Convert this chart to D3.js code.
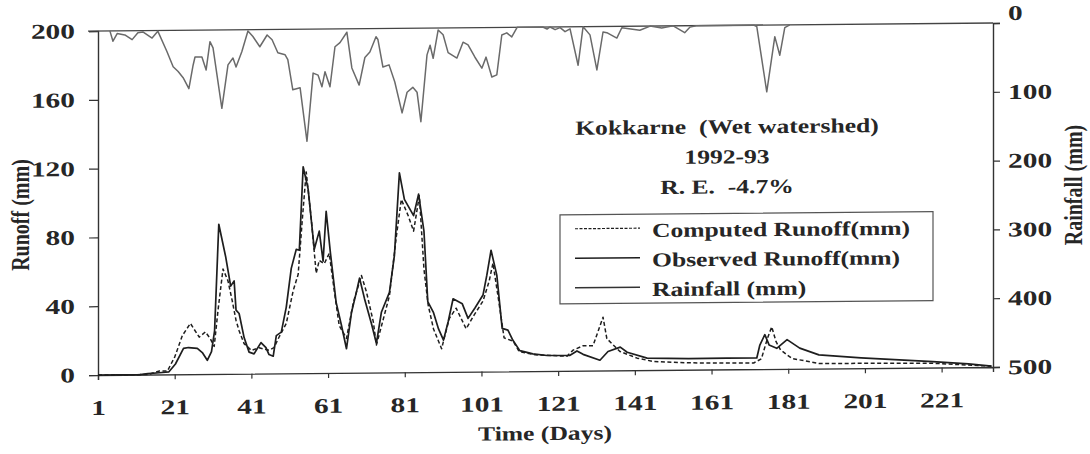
<!DOCTYPE html>
<html>
<head>
<meta charset="utf-8">
<script src="https://cdn.jsdelivr.net/npm/d3@7/dist/d3.min.js"></script>
<style>
  body { margin: 0; background: #fff; }
  text { font-family: "Liberation Serif", "Times New Roman", serif; font-weight: bold; fill: #262626; }
</style>
</head>
<body>
<svg id="chart" width="1090" height="454"></svg>
<script>
// Kokkarne (wet watershed), 1992-93: daily runoff and rainfall
const dayTicks = [1, 21, 41, 61, 81, 101, 121, 141, 161, 181, 201, 221];
const runoffTicks = [0, 40, 80, 120, 160, 200];
const rainTicks = [0, 100, 200, 300, 400, 500];

// rainfall, mm  [day, value]
const rainfall = [
  [4.1,0],[4.9,15],[6,4],[8,6],[9.9,13],[11.4,3],[12.7,2],[15.1,11],[16.6,1],[19,31],
  [20.6,53],[21.9,60],[23.2,69],[24.7,85],[25.8,51],[26.3,39],[28.1,39],[29.2,58],[30.2,17],[31,26],
  [33.3,114],[34.9,51],[36.2,41],[37,54],[38.5,32],[40.1,2],[41.4,10],[43.2,25],[45.1,8],[46.4,15],
  [47.9,34],[49.8,37],[50.5,44],[51.8,88],[53.7,85],[55.5,163],[57.1,64],[58.4,67],[59.4,84],[60.2,62],
  [61.5,84],[62.8,26],[64.1,20],[65.9,5],[67.2,57],[69.1,82],[70.6,42],[71.9,34],[73.5,12],[74,16],
  [75.3,56],[76.9,53],[78.4,78],[80.3,123],[81.6,93],[83.1,86],[84.2,93],[85.2,136],[86.8,39],[87.6,25],
  [88.4,44],[89.7,3],[91,10],[92.3,36],[94.6,44],[96.2,21],[97.5,25],[99.3,43],[101.1,59],[102.2,43],
  [103.7,72],[105,69],[106.3,11],[107.6,8],[108.9,14],[110.3,0],[117,0],[118.1,3],[118.9,0],[120.2,4],
  [121.5,1],[122.8,7],[124.1,3],[126.2,56],[127.5,0],[129.3,12],[131.1,63],[132.7,8],[133.7,9],[136.3,17],
  [137.6,2],[142.3,6],[145,0],[148,3],[151,0],[154,10],[155.4,2],[157,0],[172,0],[172.8,2],
  [175.4,97],[177.5,17],[178.8,44],[180.1,4],[181.4,0]
];

// observed runoff, mm  [day, value]
const observed = [
  [1,0],[12,0],[14,0.5],[17,1],[19.5,1.5],[21.2,6],[23.3,15],[24.6,15.5],[26.9,15],[28.2,12.5],
  [29.5,8],[30.6,13],[31.4,25],[32.5,87],[34.3,68],[35.6,51],[36.5,54],[37,37],[37.8,35],[39.1,21],
  [40.4,12.5],[41.7,11.5],[43.5,18],[44.8,15],[45.6,11],[46.7,10],[47.5,22],[48.8,24],[50.1,38.5],[51.4,61],
  [52.7,72],[53.5,71.5],[54.5,120],[55.8,107],[57.4,72],[58.7,82.5],[59.7,65],[60.5,94],[61.6,70],[63.1,41],
  [64.5,27.5],[65.8,14],[67.1,35],[68.4,47],[69.2,55],[70.5,43],[72.3,28.5],[73.6,17],[74.9,35],[77,46.5],
  [78.3,68],[79.6,116],[80.9,100.5],[83.3,91],[84.6,103.5],[86,82],[87,41],[88.5,34.5],[89.8,25],[91.1,18.5],
  [92.3,29],[93.6,42.5],[96,39.5],[97.5,31],[99.3,37],[101.4,44.5],[102.4,56],[103.5,70.5],[105,56],[106.4,25],
  [107.9,24],[109.2,18],[111,12],[114.4,10],[118.1,9],[124.1,9],[125.9,11.5],[127.5,9.5],[131.9,6],[134,11],
  [137.2,13.5],[139,10.5],[144.2,7],[155,6.5],[165,6.5],[172.8,6.5],[173.6,14],[174.9,20],[176,14],[178,12],
  [180.7,17],[184,12],[189,8],[200,6],[218.7,3.4],[228,2],[234,0.5]
];

// computed runoff, mm  [day, value]
const computed = [
  [1,0],[14,0],[17,2],[19.1,2],[21,10],[23,22.5],[25.1,29.5],[26.1,26],[27.4,21.5],[29,24.5],
  [30.3,20.5],[31.3,16],[32.3,37],[33.6,61],[34.9,54],[36,42.5],[37,31],[37.8,25],[39.1,17.5],[41,13.5],
  [43,15],[45.6,13.5],[46.9,15],[48.2,21],[50.1,29],[51.9,48],[53.2,57.5],[54.3,90],[55.3,117],[56.6,90],
  [57.9,58],[58.7,65.5],[60,63.5],[61.3,69.5],[62.6,48],[63.9,27.5],[65.8,20],[67.6,41],[69.7,56.5],[71,47],
  [72.8,29.5],[73.6,16],[75.4,31],[77,44.5],[78.8,79],[80.1,100.5],[81.9,91],[83.3,82],[84.8,102.5],[86,60],
  [87.1,39],[88.5,25],[90.6,13.5],[92.6,31],[94.4,37],[97,25],[99.1,33],[101.4,41],[103,52.5],[104,63],
  [105.4,42.5],[106.9,19.5],[109.3,17.5],[110.8,11.5],[115,9.5],[123.3,8.5],[124.9,12],[127.5,14.5],[130.1,14.5],[132.7,31],
  [133.7,18.5],[137.1,11],[141.6,7],[145.8,5],[155,4],[172,3.6],[174,6],[175.6,18],[176.7,24.5],[177.8,16],
  [179,11],[182,6],[189,3],[218.7,2.5],[234,0.5]
];

const titleLines = ["Kokkarne  (Wet watershed)", "1992-93", "R. E.  -4.7%"];
const legendItems = [
  { label: "Computed Runoff(mm)", key: "computed" },
  { label: "Observed Runoff(mm)", key: "observed" },
  { label: "Rainfall (mm)", key: "rainfall" }
];

const styles = {
  computed: { stroke: "#1e1e1e", width: 1.5, dash: "4,2.5" },
  observed: { stroke: "#1e1e1e", width: 1.7, dash: null },
  rainfall: { stroke: "#6a6a6a", width: 1.5, dash: null }
};

const SX = 1.28;           // horizontal stretch of the lettering
const SXT = 1.4;           // stretch of the tick numerals
const M = { left: 98, right: 993, top: 31, bottom: 375 };

const svg = d3.select("#chart");
const g = svg.append("g")
  .attr("transform", `translate(${M.left},${M.bottom}) skewY(-0.51) translate(${-M.left},${-M.bottom})`);

const x = d3.scaleLinear().domain([1, 234.4]).range([M.left, M.right]);
const y = d3.scaleLinear().domain([0, 200]).range([M.bottom, M.top]);
const yRain = d3.scaleLinear().domain([0, 500]).range([M.top, M.bottom]);

function stretchText(sel) {
  sel.each(function () {
    const t = d3.select(this);
    const tx = +t.attr("x") || 0;
    t.attr("x", tx / SXT).attr("transform", `scale(${SXT},1)`);
  });
}

// left axis (runoff)
const axL = g.append("g").attr("transform", `translate(${M.left},0)`)
  .call(d3.axisLeft(y).tickValues(runoffTicks).tickSize(9).tickPadding(14));
// bottom axis (days)
const axB = g.append("g").attr("transform", `translate(0,${M.bottom})`)
  .call(d3.axisBottom(x).tickValues(dayTicks).tickSize(5).tickPadding(20));
// right axis (rainfall)
const axR = g.append("g").attr("transform", `translate(${M.right},0)`)
  .call(d3.axisRight(yRain).tickValues(rainTicks).tickSize(7).tickPadding(8));

[axL, axB, axR].forEach(a => {
  a.select(".domain").attr("stroke", "#333").attr("stroke-width", 1.4);
  a.selectAll(".tick line").attr("stroke", "#333").attr("stroke-width", 1.2);
  a.selectAll(".tick text").attr("font-size", 21).attr("fill", "#262626")
    .style("font-family", '"Liberation Serif", serif').style("font-weight", "bold")
    .call(stretchText);
});
// the zero of the rainfall scale sits just above the frame corner
axR.selectAll(".tick text").filter(d => d === 0).attr("y", -10);

// rainfall datum line across the top
g.append("line")
  .attr("x1", M.left - 10).attr("x2", M.right)
  .attr("y1", yRain(0)).attr("y2", yRain(0))
  .attr("stroke", "#444").attr("stroke-width", 1.4);

// series
const lineRunoff = d3.line().x(d => x(d[0])).y(d => y(d[1]));
const lineRain = d3.line().x(d => x(d[0])).y(d => yRain(d[1]));

g.append("path").datum(rainfall).attr("d", lineRain)
  .attr("fill", "none").attr("stroke", styles.rainfall.stroke).attr("stroke-width", styles.rainfall.width)
  .attr("stroke-linejoin", "round");
g.append("path").datum(observed).attr("d", lineRunoff)
  .attr("fill", "none").attr("stroke", styles.observed.stroke).attr("stroke-width", styles.observed.width)
  .attr("stroke-linejoin", "round");
g.append("path").datum(computed).attr("d", lineRunoff)
  .attr("fill", "none").attr("stroke", styles.computed.stroke).attr("stroke-width", styles.computed.width)
  .attr("stroke-dasharray", styles.computed.dash).attr("stroke-linejoin", "round");

// title block
const titleX = 727, titleY0 = 139, lineGap = 30;
titleLines.forEach((s, i) => {
  g.append("text")
    .attr("text-anchor", "middle").attr("font-size", 20).style("white-space", "pre")
    .attr("transform", `translate(${titleX},${titleY0 + i * lineGap}) scale(${SX},1)`)
    .text(s);
});

// legend
const lg = { x0: 560, y0: 219, x1: 933, y1: 308, sx0: 575, sx1: 640, tx: 652, ty0: 242, gap: 29.5 };
g.append("rect")
  .attr("x", lg.x0).attr("y", lg.y0).attr("width", lg.x1 - lg.x0).attr("height", lg.y1 - lg.y0)
  .attr("fill", "#fff").attr("stroke", "#555").attr("stroke-width", 1.2);
legendItems.forEach((it, i) => {
  const st = styles[it.key];
  const by = lg.ty0 + i * lg.gap;
  g.append("line")
    .attr("x1", lg.sx0).attr("x2", lg.sx1).attr("y1", by - 9).attr("y2", by - 9)
    .attr("stroke", it.key === "rainfall" ? "#333" : st.stroke).attr("stroke-width", it.key === "computed" ? 1.2 : 1.4)
    .attr("stroke-dasharray", it.key === "computed" ? "3,1.5" : null);
  g.append("text")
    .attr("font-size", 20)
    .attr("transform", `translate(${lg.tx},${by}) scale(${SX},1)`)
    .text(it.label);
});

// axis titles
svg.append("text").attr("text-anchor", "middle").attr("font-size", 20)
  .attr("transform", `translate(29,215) scale(${SX},1) rotate(-90)`)
  .text("Runoff (mm)");
svg.append("text").attr("text-anchor", "middle").attr("font-size", 20)
  .attr("transform", `translate(1082,185) scale(${SX},1) rotate(-90)`)
  .text("Rainfall (mm)");
g.append("text").attr("text-anchor", "middle").attr("font-size", 20)
  .attr("transform", `translate(545,444) scale(${SX},1)`)
  .text("Time (Days)");
</script>
</body>
</html>
